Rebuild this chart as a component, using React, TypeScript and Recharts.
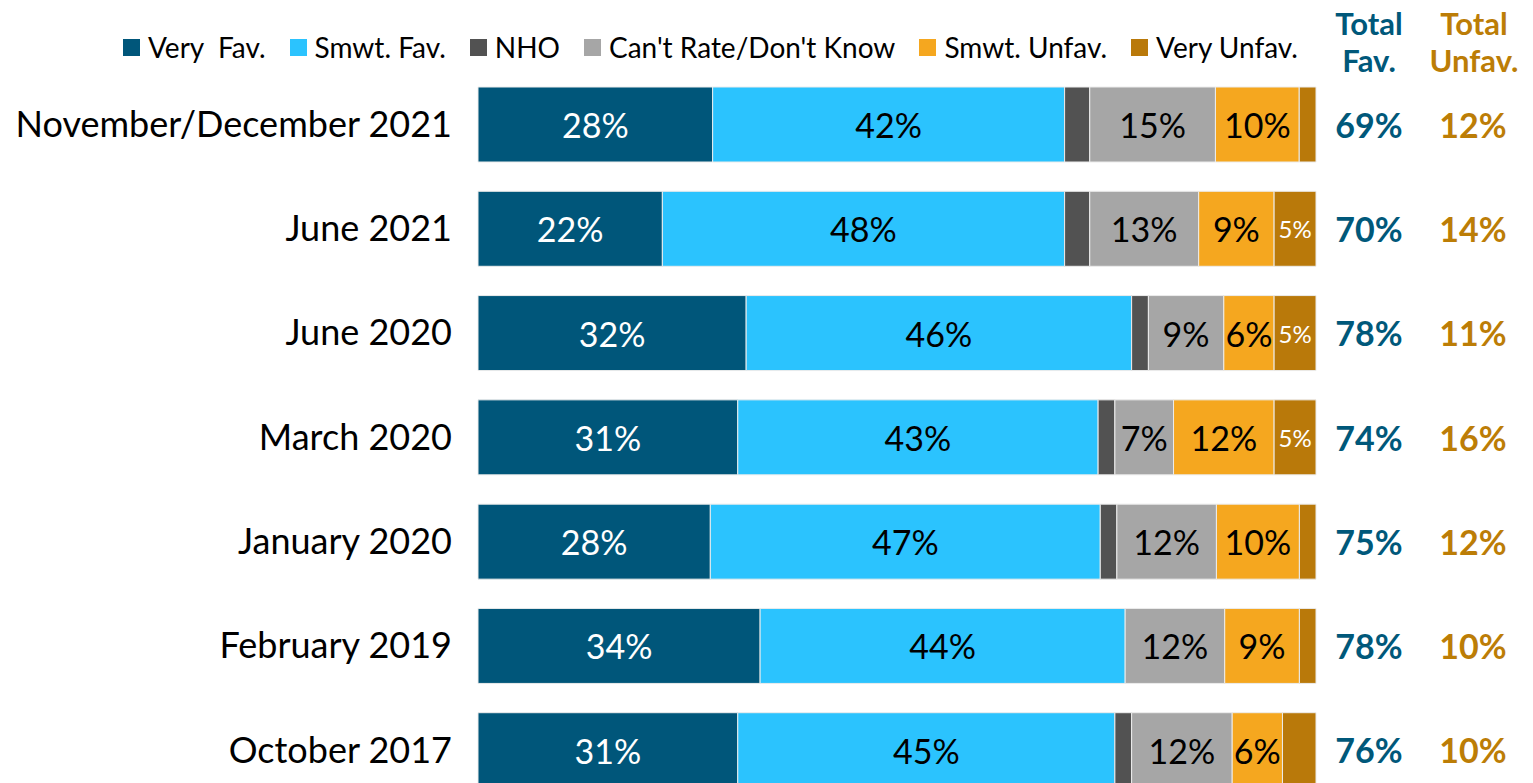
import { BarChart, Bar, XAxis, YAxis, Legend, LabelList } from "recharts";

const periods = [
  "November/December 2021",
  "June 2021",
  "June 2020",
  "March 2020",
  "January 2020",
  "February 2019",
  "October 2017",
];
const veryFav = [28, 22, 32, 31, 28, 34, 31];
const smwtFav = [42, 48, 46, 43, 47, 44, 45];
const nho = [3, 3, 2, 2, 2, 0, 2];
const cantRate = [15, 13, 9, 7, 12, 12, 12];
const smwtUnfav = [10, 9, 6, 12, 10, 9, 6];
const veryUnfav = [2, 5, 5, 5, 2, 2, 4];
const totalFav = [69, 70, 78, 74, 75, 78, 76];
const totalUnfav = [12, 14, 11, 16, 12, 10, 10];

const FONT = "Lato, 'Noto Sans', sans-serif";
const FAV_COLOR = "#00587A";
const UNFAV_COLOR = "#BC7D06";

const series = [
  { key: "veryFav", name: "Very  Fav.", color: "#00567A", text: "#fff", size: 34 },
  { key: "smwtFav", name: "Smwt. Fav.", color: "#2BC3FE", text: "#000", size: 34 },
  { key: "nho", name: "NHO", color: "#525252", text: "#fff", size: 0 },
  { key: "cantRate", name: "Can't Rate/Don't Know", color: "#A6A6A6", text: "#000", size: 34 },
  { key: "smwtUnfav", name: "Smwt. Unfav.", color: "#F5A71F", text: "#000", size: 34 },
  { key: "veryUnfav", name: "Very Unfav.", color: "#B9790A", text: "#fff", size: 24 },
];

const data = periods.map((name, i) => ({
  name,
  veryFav: veryFav[i],
  smwtFav: smwtFav[i],
  nho: nho[i],
  cantRate: cantRate[i],
  smwtUnfav: smwtUnfav[i],
  veryUnfav: veryUnfav[i],
}));

function TotalTick(props: any) {
  const { x, y, payload } = props;
  const i = periods.indexOf(payload.value);
  return (
    <g fontFamily={FONT} fontWeight="bold" fontSize={34}>
      <text x={x + 53} y={y} textAnchor="middle" dominantBaseline="central" fill={FAV_COLOR}>
        {totalFav[i]}%
      </text>
      <text x={x + 157} y={y} textAnchor="middle" dominantBaseline="central" fill={UNFAV_COLOR}>
        {totalUnfav[i]}%
      </text>
    </g>
  );
}

// keep series order (recharts sorts payload by name otherwise)
function renderLegend() {
  return (
    <div style={{ display: "flex", alignItems: "center", fontFamily: FONT, fontSize: 28, color: "#000" }}>
      {series.map((s) => (
        <span key={s.key} style={{ display: "flex", alignItems: "center", marginRight: 24 }}>
          <span style={{ width: 17, height: 17, background: s.color, marginRight: 8, display: "inline-block" }} />
          <span style={{ whiteSpace: "pre" }}>{s.name}</span>
        </span>
      ))}
    </div>
  );
}

function makeLabel(color: string, size: number) {
  return (props: any) => {
    const { x, y, width, height, value } = props;
    if (!size || value < 5) return null;
    return (
      <text
        x={x + width / 2}
        y={y + height / 2}
        textAnchor="middle"
        dominantBaseline="central"
        fill={color}
        fontSize={size}
        fontFamily={FONT}
      >
        {value}%
      </text>
    );
  };
}

const headerStyle = {
  position: "absolute" as const,
  width: 110,
  textAlign: "center" as const,
  fontWeight: "bold",
  fontSize: 31,
  lineHeight: "31px",
};

function Header({ left, color, lines }: { left: number; color: string; lines: string[] }) {
  return (
    <>
      <div style={{ ...headerStyle, left, top: 8, color }}>{lines[0]}</div>
      <div style={{ ...headerStyle, left, top: 45, color }}>{lines[1]}</div>
    </>
  );
}

export default function App() {
  return (
    <div
      style={{
        position: "absolute",
        left: 0,
        top: 0,
        width: 1533,
        height: 783,
        overflow: "hidden",
        background: "#fff",
        fontFamily: FONT,
      }}
    >
      <Header left={1314} color={FAV_COLOR} lines={["Total", "Fav."]} />
      <Header left={1419} color={UNFAV_COLOR} lines={["Total", "Unfav."]} />
      <BarChart
        width={1533}
        height={802}
        data={data}
        layout="vertical"
        stackOffset="expand"
        barSize={75}
        margin={{ top: 72, right: 0, bottom: 0, left: 0 }}
      >
        <XAxis type="number" hide />
        <YAxis
          yAxisId="left"
          type="category"
          dataKey="name"
          width={478}
          axisLine={false}
          tickLine={false}
          tickSize={0}
          tickMargin={26}
          interval={0}
          tick={{ fontSize: 36, fill: "#000", fontFamily: FONT }}
        />
        <YAxis
          yAxisId="right"
          orientation="right"
          type="category"
          dataKey="name"
          width={217}
          axisLine={false}
          tickLine={false}
          tickSize={0}
          tickMargin={0}
          interval={0}
          tick={<TotalTick />}
        />
        <Legend
          layout="horizontal"
          verticalAlign="middle"
          align="center"
          wrapperStyle={{ left: 123, top: 30, width: 1250 }}
          content={renderLegend}
        />
        {series.map((s) => (
          <Bar
            key={s.key}
            yAxisId="left"
            dataKey={s.key}
            name={s.name}
            stackId="a"
            fill={s.color}
            stroke="#ececec"
            strokeWidth={1}
            isAnimationActive={false}
          >
            <LabelList dataKey={s.key} content={makeLabel(s.text, s.size)} />
          </Bar>
        ))}
      </BarChart>
    </div>
  );
}
